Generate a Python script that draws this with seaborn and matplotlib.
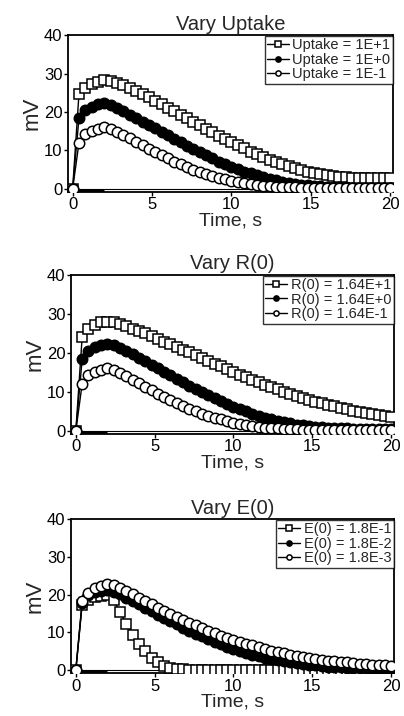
import numpy as np
import pandas as pd
import matplotlib
matplotlib.use("Agg")
import matplotlib.pyplot as plt
import seaborn as sns

# STYLE
sns.set_theme(style="ticks")
plt.rcParams["font.family"] = ["Liberation Sans", "DejaVu Sans"]

# DATA
TIME = [0.0, 0.4, 0.8, 1.2, 1.6, 2.0, 2.4, 2.8, 3.2, 3.6,
        4.0, 4.4, 4.8, 5.2, 5.6, 6.0, 6.4, 6.8, 7.2, 7.6,
        8.0, 8.4, 8.8, 9.2, 9.6, 10.0, 10.4, 10.8, 11.2, 11.6,
        12.0, 12.4, 12.8, 13.2, 13.6, 14.0, 14.4, 14.8, 15.2, 15.6,
        16.0, 16.4, 16.8, 17.2, 17.6, 18.0, 18.4, 18.8, 19.2, 19.6, 20.0]

# Vary Uptake
uptake_1e1 = [0, 24.8, 26.3, 27.3, 27.9, 28.2, 28.0, 27.5, 26.9, 26.2,
              25.4, 24.6, 23.8, 22.9, 22.0, 21.1, 20.2, 19.3, 18.3, 17.4,
              16.5, 15.6, 14.7, 13.8, 12.9, 12.1, 11.3, 10.5, 9.7, 9.0,
              8.3, 7.6, 7.0, 6.4, 5.9, 5.4, 4.9, 4.5, 4.1, 3.8,
              3.5, 3.3, 3.1, 3.0, 2.9, 2.8, 2.8, 2.8, 2.8, 2.8, 2.8]
uptake_1e0 = [0, 18.5, 20.6, 21.4, 22.0, 22.3, 21.8, 21.0, 20.2, 19.3,
              18.4, 17.5, 16.6, 15.7, 14.8, 13.9, 13.0, 12.1, 11.2, 10.3,
              9.5, 8.7, 7.9, 7.1, 6.4, 5.7, 5.1, 4.5, 4.0, 3.5,
              3.0, 2.6, 2.2, 1.9, 1.6, 1.3, 1.1, 0.9, 0.8, 0.7,
              0.6, 0.5, 0.4, 0.4, 0.3, 0.3, 0.3, 0.3, 0.3, 0.3, 0.3]
uptake_1em1 = [0, 12.0, 14.2, 15.0, 15.6, 16.0, 15.5, 14.8, 14.0, 13.1,
               12.2, 11.3, 10.4, 9.5, 8.7, 7.9, 7.1, 6.4, 5.7, 5.0,
               4.4, 3.9, 3.4, 2.9, 2.5, 2.1, 1.8, 1.5, 1.2, 1.0,
               0.8, 0.7, 0.6, 0.5, 0.4, 0.4, 0.3, 0.3, 0.3, 0.2,
               0.2, 0.2, 0.2, 0.2, 0.2, 0.2, 0.2, 0.2, 0.2, 0.2, 0.2]

# Vary R(0)
r0_164e1 = [0, 24.0, 26.2, 27.2, 27.8, 28.0, 27.8, 27.3, 26.8, 26.2,
            25.6, 25.0, 24.3, 23.6, 22.9, 22.2, 21.5, 20.8, 20.1, 19.4,
            18.6, 17.9, 17.2, 16.5, 15.8, 15.1, 14.4, 13.7, 13.1, 12.4,
            11.8, 11.2, 10.6, 10.0, 9.5, 9.0, 8.5, 8.0, 7.5, 7.1,
            6.7, 6.3, 5.9, 5.6, 5.2, 4.9, 4.6, 4.3, 4.0, 3.8, 3.5]
r0_164e0 = [0, 18.3, 20.5, 21.4, 22.0, 22.4, 21.9, 21.2, 20.4, 19.6,
            18.7, 17.8, 16.9, 16.0, 15.1, 14.2, 13.3, 12.4, 11.5, 10.7,
            9.9, 9.1, 8.3, 7.6, 6.9, 6.2, 5.6, 5.0, 4.4, 3.9,
            3.4, 3.0, 2.6, 2.2, 1.9, 1.6, 1.4, 1.2, 1.0, 0.9,
            0.8, 0.7, 0.6, 0.6, 0.5, 0.5, 0.5, 0.5, 0.5, 0.5, 0.5]
r0_164em1 = [0, 12.0, 14.3, 15.1, 15.6, 16.0, 15.5, 14.8, 14.0, 13.1,
             12.2, 11.3, 10.4, 9.5, 8.7, 7.9, 7.1, 6.4, 5.7, 5.0,
             4.4, 3.9, 3.4, 2.9, 2.5, 2.1, 1.8, 1.5, 1.2, 1.0,
             0.8, 0.7, 0.6, 0.5, 0.4, 0.4, 0.3, 0.3, 0.3, 0.3,
             0.3, 0.3, 0.3, 0.3, 0.3, 0.3, 0.3, 0.3, 0.3, 0.3, 0.3]

# Vary E(0)
e0_18em1 = [0, 17.3, 18.6, 19.3, 19.7, 19.8, 18.5, 15.3, 12.3, 9.4,
            7.0, 5.0, 3.3, 2.0, 1.1, 0.6, 0.3, 0.2, 0.1, 0.1,
            0.1, 0.1, 0.1, 0.1, 0.1, 0.1, 0.1, 0.1, 0.1, 0.1,
            0.1, 0.1, 0.1, 0.1, 0.1, 0.1, 0.1, 0.1, 0.1, 0.1,
            0.1, 0.1, 0.1, 0.1, 0.1, 0.1, 0.1, 0.1, 0.1, 0.1, 0.1]
e0_18em2 = [0, 17.8, 19.8, 20.6, 21.0, 21.2, 20.8, 20.1, 19.2, 18.3,
            17.4, 16.5, 15.6, 14.7, 13.8, 12.9, 12.1, 11.2, 10.4, 9.6,
            8.9, 8.2, 7.5, 6.8, 6.2, 5.6, 5.1, 4.6, 4.1, 3.7,
            3.3, 2.9, 2.6, 2.3, 2.0, 1.8, 1.6, 1.4, 1.2, 1.1,
            0.9, 0.8, 0.7, 0.6, 0.6, 0.5, 0.5, 0.4, 0.4, 0.4, 0.3]
e0_18em3 = [0, 18.2, 20.5, 21.7, 22.4, 22.8, 22.5, 21.8, 21.0, 20.1,
            19.2, 18.3, 17.4, 16.5, 15.7, 14.9, 14.1, 13.3, 12.5, 11.8,
            11.1, 10.4, 9.8, 9.1, 8.6, 8.0, 7.5, 7.0, 6.5, 6.0,
            5.6, 5.1, 4.8, 4.4, 4.1, 3.8, 3.5, 3.2, 3.0, 2.7,
            2.5, 2.3, 2.1, 2.0, 1.8, 1.7, 1.5, 1.4, 1.3, 1.2, 1.1]

PANELS = [
    ("Vary Uptake",
     ["Uptake = 1E+1", "Uptake = 1E+0", "Uptake = 1E-1"],
     [uptake_1e1, uptake_1e0, uptake_1em1]),
    ("Vary R(0)",
     ["R(0) = 1.64E+1", "R(0) = 1.64E+0", "R(0) = 1.64E-1"],
     [r0_164e1, r0_164e0, r0_164em1]),
    ("Vary E(0)",
     ["E(0) = 1.8E-1", "E(0) = 1.8E-2", "E(0) = 1.8E-3"],
     [e0_18em1, e0_18em2, e0_18em3]),
]

# marker per series slot: open square, filled circle, open circle
STYLES = [("s", "white"), ("o", "black"), ("o", "white")]

# axes rectangles in figure fractions (left, bottom, width, height)
RECTS = [
    (0.168, 0.732, 0.806, 0.219),
    (0.176, 0.394, 0.800, 0.222),
    (0.176, 0.060, 0.800, 0.215),
]

fig = plt.figure(figsize=(4.04, 7.16), dpi=100)

for (title, labels, series), rect in zip(PANELS, RECTS):
    ax = fig.add_axes(rect)
    df = pd.DataFrame({"t": TIME})
    for lab, vals, (mk, fc) in zip(labels, series, STYLES):
        df[lab] = vals
        sns.lineplot(data=df, x="t", y=lab, ax=ax, color="black",
                     linewidth=1.0, marker=mk, markersize=7.5,
                     markerfacecolor=fc, markeredgecolor="black",
                     markeredgewidth=1.1, label=lab, zorder=3)

    # baseline and stimulus bar
    ax.axhline(0, color="black", linewidth=0.8, zorder=1)
    ax.plot([0, 2], [-0.6, -0.6], color="black", linewidth=2.5,
            solid_capstyle="butt", zorder=2)

    ax.set_xlim(-0.3, 20.2)
    ax.set_ylim(-0.8, 40)
    ax.set_xticks([0, 5, 10, 15, 20])
    ax.set_yticks([0, 10, 20, 30, 40])
    ax.set_title(title, fontsize=14.5, pad=4)
    ax.set_xlabel("Time, s", fontsize=14, labelpad=0)
    ax.set_ylabel("mV", fontsize=16, labelpad=1)
    ax.tick_params(labelsize=12, length=3, width=1.0, color="black",
                   labelcolor="black", pad=1)
    for sp in ax.spines.values():
        sp.set_color("black")
        sp.set_linewidth(1.3)

    leg = ax.legend(loc="upper right", fontsize=10.5, frameon=True,
                    fancybox=False, borderaxespad=0.05, handlelength=1.5,
                    handletextpad=0.25, borderpad=0.15, labelspacing=0.05,
                    markerscale=0.5)
    leg.get_frame().set_edgecolor("black")
    leg.get_frame().set_linewidth(1.0)

fig.savefig("out.png", dpi=100)
